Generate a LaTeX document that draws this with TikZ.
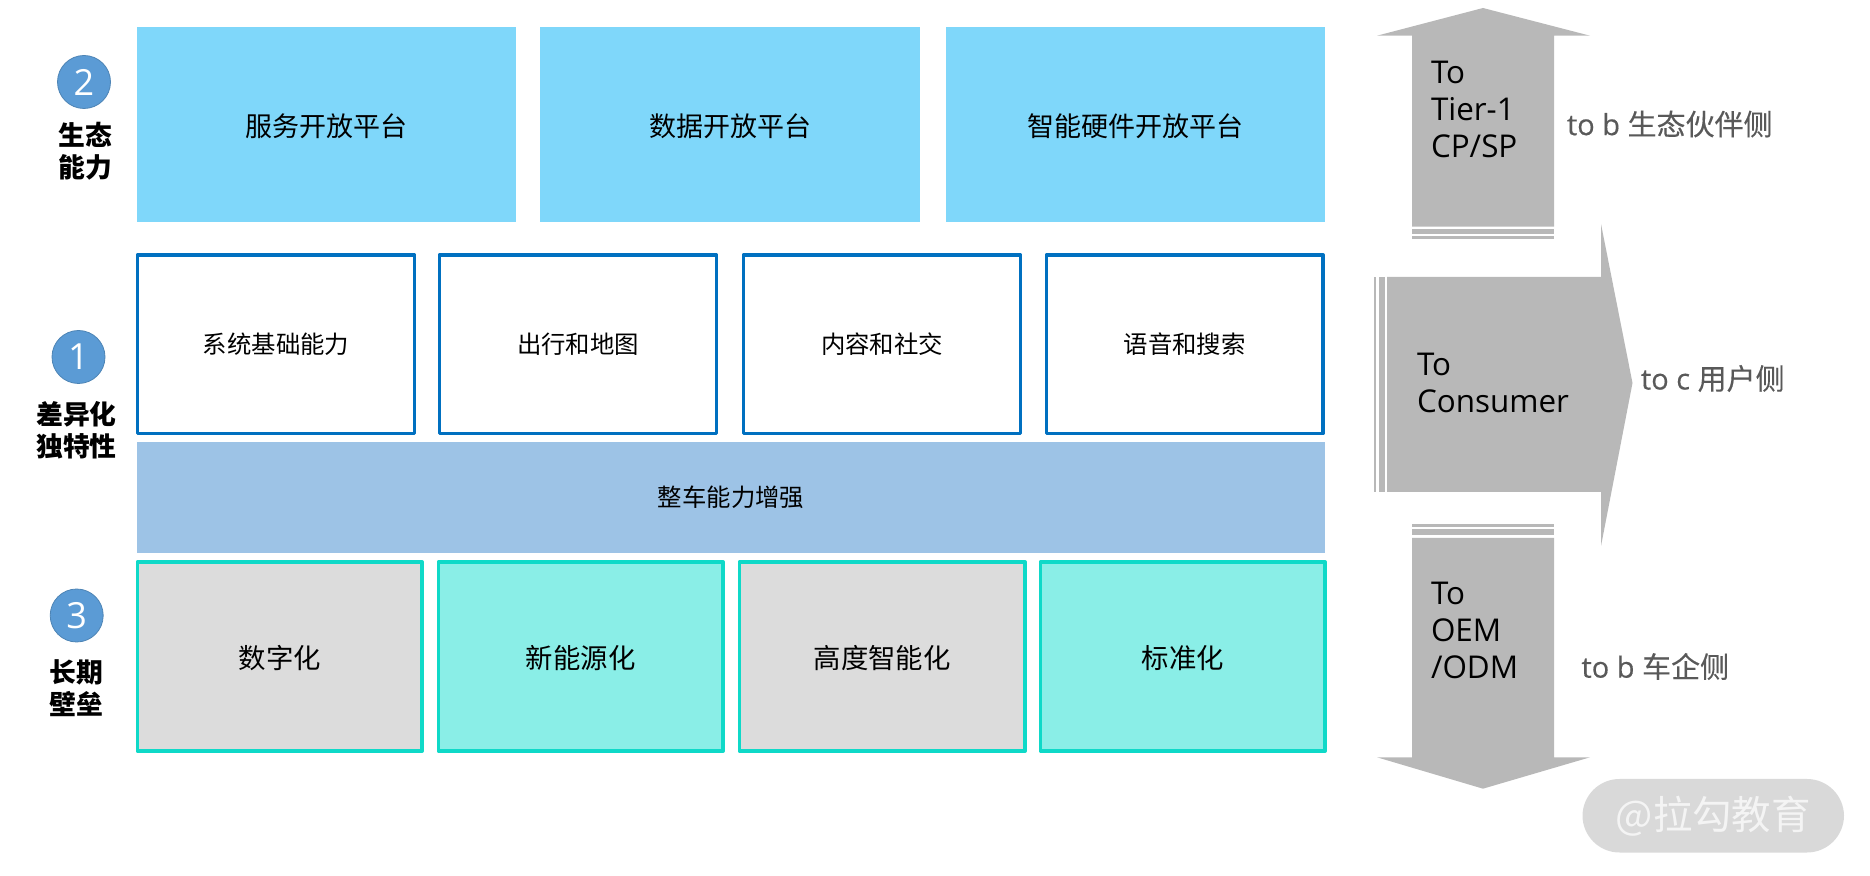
\documentclass[tikz,border=0pt]{standalone}
\usepackage{fontspec}
\setmainfont{Open Sans}
\newfontfamily\cjk{Noto Sans CJK SC}
\newfontfamily\sidefont[FakeBold=0.35]{Open Sans}
\newfontfamily\sidecjk[FakeBold=0.25]{Noto Sans CJK SC}
\newcommand{\rbox}[7]{\node[#2,minimum width={(#5-#3)*0.5pt},minimum height={(#6-#4)*0.5pt}] (#1) at ({(#3+#5)/2},{(#4+#6)/2}) {#7};}
\newcommand{\lowered}[1]{\raisebox{-0.8pt}[\height][\depth]{#1}}
\definecolor{skyfill}{HTML}{7FD7FA}
\definecolor{bandfill}{HTML}{9DC3E6}
\definecolor{blueline}{HTML}{0070C0}
\definecolor{tealline}{HTML}{0FD9C8}
\definecolor{tealfill}{HTML}{8AEEE7}
\definecolor{greyfill}{HTML}{DCDCDC}
\definecolor{arrowgrey}{HTML}{B8B8B8}
\definecolor{circfill}{HTML}{5B9BD5}
\definecolor{sidetext}{HTML}{595959}
\definecolor{wmfill}{HTML}{D9D9D9}
\definecolor{wmtext}{HTML}{F4F4F4}
\tikzset{
  x=0.5pt,y=-0.5pt,
  every node/.style={inner sep=0pt,outer sep=0pt},
  skybox/.style={fill=skyfill,font=\cjk\fontsize{13.5}{16}\selectfont},
  bandbox/.style={fill=bandfill,font=\cjk\fontsize{12.2}{15}\selectfont},
  whitebox/.style={draw=blueline,line width=1.95pt,line join=round,fill=white,font=\cjk\fontsize{12.2}{15}\selectfont},
  greybox/.style={draw=tealline,line width=1.95pt,line join=round,fill=greyfill,font=\cjk\fontsize{13.7}{16}\selectfont},
  tealbox/.style={draw=tealline,line width=1.95pt,line join=round,fill=tealfill,font=\cjk\fontsize{13.7}{16}\selectfont},
  numcirc/.style={circle,fill=circfill,draw=circfill!85!black,line width=0.4pt,minimum size=26.5pt,text=white,font=\fontsize{18}{20}\selectfont},
  levellabel/.style={align=center,font=\cjk\bfseries\fontsize{13.4}{16.2}\selectfont},
  arrowshape/.style={fill=arrowgrey},
  arrowtext/.style={anchor=west,align=left,font=\fontsize{15.7}{18.5}\selectfont},
  sidelabel/.style={anchor=west,text=sidetext,font=\sidefont\fontsize{14.5}{16}\selectfont},
  wmark/.style={rounded corners=18.5pt,fill=wmfill,text=wmtext,font=\cjk\fontsize{19.7}{22}\selectfont},
}
\begin{document}
\begin{tikzpicture}
\useasboundingbox (0,0) rectangle (1870,876);
% top row
\rbox{s1}{skybox}{137}{27}{516}{222}{\lowered{服务开放平台}}
\rbox{s2}{skybox}{540}{27}{920}{222}{\lowered{数据开放平台}}
\rbox{s3}{skybox}{946}{27}{1325}{222}{\lowered{智能硬件开放平台}}
% middle row
\rbox{w1}{whitebox}{137.5}{255}{414.5}{433.5}{系统基础能力}
\rbox{w2}{whitebox}{439.5}{255}{716.5}{433.5}{出行和地图}
\rbox{w3}{whitebox}{743.5}{255}{1020.5}{433.5}{内容和社交}
\rbox{w4}{whitebox}{1046.5}{255}{1323}{433.5}{语音和搜索}
\rbox{band}{bandbox}{137}{442}{1325}{553}{整车能力增强}
% bottom row
\rbox{g1}{greybox}{137.5}{562}{422}{751}{\lowered{数字化}}
\rbox{g2}{tealbox}{438.5}{562}{723}{751}{\lowered{新能源化}}
\rbox{g3}{greybox}{739.5}{562}{1025}{751}{\lowered{高度智能化}}
\rbox{g4}{tealbox}{1040.5}{562}{1325}{751}{\lowered{标准化}}
% level markers
\node[numcirc] (n2) at (84,82) {2};
\node[levellabel] (l2) at (85.3,151.5) {生态\\能力};
\node[numcirc] (n1) at (78.5,357) {1};
\node[levellabel] (l1) at (76.5,430.5) {差异化\\独特性};
\node[numcirc] (n3) at (76.7,615.5) {3};
\node[levellabel] (l3) at (76.7,688) {长期\\壁垒};
% up arrow
\fill[arrowshape] (1483,8) -- (1590,35.7) -- (1554,35.7) -- (1554,226.7) -- (1412,226.7) -- (1412,35.7) -- (1377,35.7) -- cycle;
\fill[arrowshape] (1412,229) rectangle (1554,234);
\fill[arrowshape] (1412,236) rectangle (1554,238.7);
% right arrow
\fill[arrowshape] (1632.5,383) -- (1601,546) -- (1601,492) -- (1387,492) -- (1387,277) -- (1601,277) -- (1601,224) -- cycle;
\fill[arrowshape] (1374,277) rectangle (1376,492);
\fill[arrowshape] (1379,277) rectangle (1384.5,492);
% down arrow
\fill[arrowshape] (1483,788.7) -- (1590,757.3) -- (1554,757.3) -- (1554,538) -- (1412,538) -- (1412,757.3) -- (1377,757.3) -- cycle;
\fill[arrowshape] (1412,529.3) rectangle (1554,535);
\fill[arrowshape] (1412,524) rectangle (1554,526.7);
% arrow labels
\node[arrowtext] (t1) at (1431,109.5) {To\\Tier-1\\CP/SP};
\node[arrowtext] (t2) at (1417,383) {To\\Consumer};
\node[arrowtext] (t3) at (1431,630) {To\\OEM\\/ODM};
\node[sidelabel] (o1) at (1567,124) {to b {\sidecjk 生态伙伴侧}};
\node[sidelabel] (o2) at (1641,378.5) {to c {\sidecjk 用户侧}};
\node[sidelabel] (o3) at (1581.5,666.5) {to b {\sidecjk 车企侧}};
% watermark
\rbox{wm}{wmark}{1582.5}{779}{1844}{852.5}{@拉勾教育}
\end{tikzpicture}
\end{document}
